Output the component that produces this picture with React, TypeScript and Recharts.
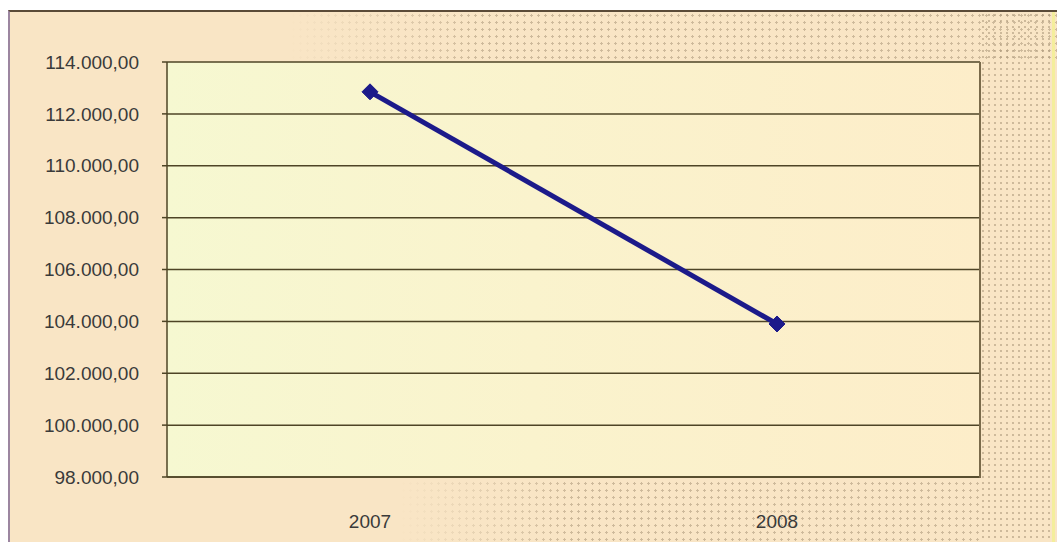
import React from 'react';
import { LineChart, Line, XAxis, YAxis, CartesianGrid } from 'recharts';

const years = ['2007', '2008'];
const values = [112850, 103900];
const yTicks = [98000, 100000, 102000, 104000, 106000, 108000, 110000, 112000, 114000];

const data = years.map((year, i) => ({ year, value: values[i] }));

const fmt = (v: number) =>
  v.toLocaleString('de-DE', { minimumFractionDigits: 2, maximumFractionDigits: 2 });

const Diamond = (props: any) => {
  const { cx, cy } = props;
  if (cx == null || cy == null) return null;
  const r = 8;
  return (
    <path
      d={`M${cx},${cy - r} L${cx + r},${cy} L${cx},${cy + r} L${cx - r},${cy} Z`}
      fill="#1c1a8a"
      stroke="#1c1a8a"
    />
  );
};

const dots = 'radial-gradient(circle, rgba(170,150,120,0.55) 1px, transparent 1.4px)';
const font = "'Liberation Sans', Arial, sans-serif";

export default function App() {
  return (
    <div style={{ position: 'absolute', left: 0, top: 0, width: 1057, height: 542, background: '#fff' }}>
      {/* chart area background */}
      <div
        style={{
          position: 'absolute',
          left: 8,
          top: 10,
          width: 1049,
          height: 532,
          background: '#f9e5c5',
          borderTop: '2px solid #5b4b38',
          borderLeft: '2px solid #9c86a0',
          boxSizing: 'border-box',
        }}
      />
      {/* dotted texture at top and right */}
      <div
        style={{
          position: 'absolute',
          left: 290,
          top: 12,
          width: 767,
          height: 50,
          backgroundImage: dots,
          backgroundSize: '7px 7px',
          WebkitMaskImage: 'linear-gradient(to right, transparent, black 25%)',
          maskImage: 'linear-gradient(to right, transparent, black 25%)',
        }}
      />
      <div
        style={{
          position: 'absolute',
          left: 980,
          top: 12,
          width: 72,
          height: 530,
          backgroundImage: dots,
          backgroundSize: '6px 6px',
        }}
      />
      <div
        style={{
          position: 'absolute',
          left: 400,
          top: 480,
          width: 580,
          height: 62,
          backgroundImage: dots,
          backgroundSize: '7px 7px',
          WebkitMaskImage: 'linear-gradient(to right, transparent, black 30%)',
          maskImage: 'linear-gradient(to right, transparent, black 30%)',
        }}
      />
      <div style={{ position: 'absolute', left: 1052, top: 12, width: 3, height: 530, background: '#f4ee9c' }} />
      <div style={{ position: 'absolute', left: 0, top: 0 }}>
        <LineChart
          width={1057}
          height={542}
          data={data}
          margin={{ top: 62, right: 77, bottom: 35, left: 0 }}
        >
          <defs>
            <linearGradient id="plotFill" x1="0" y1="0" x2="1" y2="0">
              <stop offset="0%" stopColor="#f6f8d1" />
              <stop offset="45%" stopColor="#faf3cd" />
              <stop offset="100%" stopColor="#fdedc9" />
            </linearGradient>
          </defs>
          <CartesianGrid
            vertical={false}
            stroke="#4e4426"
            strokeWidth={1.5}
            fill="url(#plotFill)"
            fillOpacity={1}
          />
          <XAxis
            dataKey="year"
            height={30}
            padding={{ left: 203, right: 203 }}
            stroke="#4e4426"
            strokeWidth={1.5}
            tickLine={false}
            tickMargin={32}
            tick={{ fill: '#3a3a3a', fontSize: 19, fontFamily: font }}
          />
          <YAxis
            width={167}
            domain={[98000, 114000]}
            ticks={yTicks}
            tickFormatter={fmt}
            stroke="#4e4426"
            strokeWidth={1.5}
            tickSize={5}
            tickMargin={23}
            tick={{ fill: '#3a3a3a', fontSize: 19, fontFamily: font }}
          />
          <Line
            type="linear"
            dataKey="value"
            stroke="#1c1a8a"
            strokeWidth={5}
            dot={<Diamond />}
            activeDot={false}
            isAnimationActive={false}
          />
        </LineChart>
      </div>
      {/* right border of plot area */}
      <div style={{ position: 'absolute', left: 979, top: 62, width: 2, height: 416, background: '#7a6a4a' }} />
    </div>
  );
}
